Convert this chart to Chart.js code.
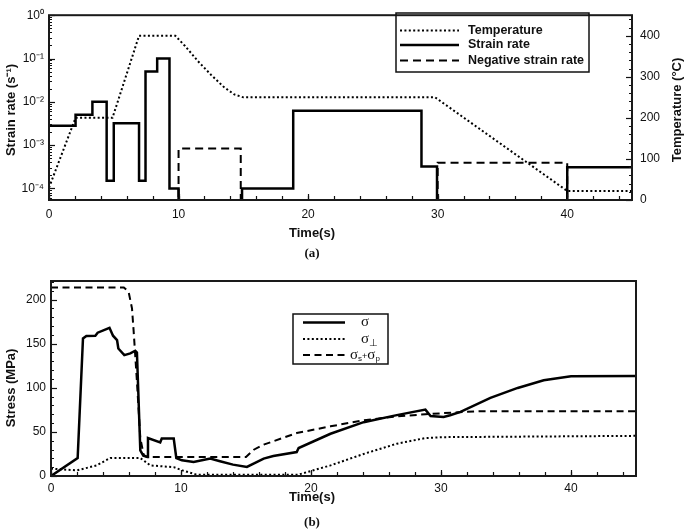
<!DOCTYPE html>
<html><head><meta charset="utf-8">
<script src="https://cdn.jsdelivr.net/npm/chart.js@4/dist/chart.umd.min.js"></script>
<style>
html,body{margin:0;padding:0;background:#fff;}
#wrap{position:relative;width:685px;height:532px;overflow:hidden;}
#c1{position:absolute;left:0;top:0;}
#c2{position:absolute;left:0;top:262px;}
</style></head><body>
<div id="wrap"><canvas id="c1" width="685" height="262"></canvas><canvas id="c2" width="685" height="270"></canvas></div>
<script>
// ---------- Panel (a) data ----------
const timeTicks = [0, 10, 20, 30, 40];
const strainTicks = [1e-4, 1e-3, 1e-2, 1e-1, 1];
const strainTickLabels = ['10⁻⁴', '10⁻³', '10⁻²', '10⁻¹', '10⁰'];
const tempTicks = [0, 100, 200, 300, 400];
const OFF = 1e-6; // below the visible strain-rate range (line runs off the axis)

// strain rate (solid), value holds from t[i] to t[i+1]
const strainT = [0, 2.05, 3.35, 4.45, 5.0, 6.95, 7.45, 8.35, 9.3, 10.0, 14.9, 18.85, 28.75, 29.95, 40.0, 45];
const strainV = [2.8e-3, 5e-3, 1e-2, 1.5e-4, 3.2e-3, 1.5e-4, 5e-2, 1e-1, 1e-4, OFF, 1e-4, 6.2e-3, 3.2e-4, OFF, 3.1e-4, 3.1e-4];
// negative strain rate (dashed)
const negT = [10.0, 10.0, 14.8, 30.0, 40.0];
const negV = [OFF, 8.3e-4, OFF, 3.9e-4, OFF];
// temperature (dotted, right axis)
const tempT = [0, 2.05, 4.9, 6.95, 9.75, 10.5, 11.5, 12.5, 13.5, 14.3, 15.0, 29.8, 40.0, 45];
const tempV = [30, 200, 200, 400, 400, 375, 338, 305, 275, 257, 250, 250, 22, 22];
const seriesA = ['Temperature', 'Strain rate', 'Negative strain rate'];

// ---------- Panel (b) data ----------
const stressTicks = [0, 50, 100, 150, 200];
const sigmaT = [0, 2.05, 2.46, 2.72, 3.41, 3.59, 4.5, 4.77, 5.08, 5.18, 5.64, 6.1, 6.48, 6.61, 6.87, 7.1, 7.42, 7.46, 8.4, 8.52, 9.44, 9.64, 10.07, 10.97, 12.25, 13.0, 14.0, 15.07, 16.36, 17.1, 18.9, 19.05, 21.5, 24.05, 26.6, 28.8, 29.2, 30.2, 30.7, 31.5, 33.8, 35.9, 37.9, 40, 45];
const sigmaV = [0, 20.4, 155.8, 158.6, 159, 162.4, 168, 159, 154, 144.5, 137, 139, 142, 140, 29, 23, 21.5, 43, 38, 42.5, 42.5, 20.4, 17.8, 15.9, 19.7, 16.7, 12.9, 10.3, 19.7, 22.7, 27.2, 31.7, 47.9, 61, 69, 75.2, 68, 66.9, 68.8, 72.6, 88.5, 99.8, 108.5, 113, 113.4];
const perpT = [0, 2, 3.5, 4.56, 6.87, 7.64, 9.44, 10.1, 11.2, 19.0, 21.5, 24.05, 26.6, 28.8, 30, 45];
const perpV = [8.3, 6.4, 12, 20.4, 20.4, 12, 10, 6.4, 1.5, 1.5, 12, 25, 36.6, 43, 44, 45.5];
const sumT = [0, 5.6, 5.97, 6.23, 6.36, 6.61, 6.87, 7.13, 7.38, 15.0, 15.6, 16.36, 18.9, 21.5, 24, 26.6, 28.8, 31.75, 33, 45];
const sumV = [213.7, 213.7, 208.7, 190, 163.6, 107, 43, 24, 21.5, 21.5, 29.8, 35.5, 48.7, 56.3, 63, 67.6, 70, 72.6, 73.4, 73.4];
const seriesB = ['σ', 'σ⊥', 'σs+σp'];

// ---------- helpers ----------
const pts = (t, v) => t.map((x, i) => ({x, y: v[i]}));
const range = (a, b, s) => { const r = []; for (let v = a; v <= b + 1e-9; v += s) r.push(+v.toFixed(6)); return r; };
const logMinor = () => { const r = []; for (let e = -5; e < 0; e++) for (let m = 2; m <= 9; m++) r.push(m * Math.pow(10, e)); return r; };
const SANS = '"Liberation Sans", Arial, Helvetica, sans-serif';
const SERIF = '"Liberation Serif", "Times New Roman", serif';
Chart.defaults.font.family = SANS;
Chart.defaults.font.size = 12;
Chart.defaults.color = '#111';

const decor = {
  id: 'decor',
  afterDraw(chart, args, o) {
    const ctx = chart.ctx, a = chart.chartArea;
    ctx.save();
    ctx.setLineDash([]);
    ctx.strokeStyle = '#111';
    (o.ticks || []).forEach(t => {
      const sc = chart.scales[t.scale];
      ctx.lineWidth = t.width;
      t.values.forEach(v => {
        const p = Math.round(sc.getPixelForValue(v)) + 0.5;
        if (p < a.top - 1 || p > a.bottom + 1 && t.side !== 'bottom') return;
        ctx.beginPath();
        if (t.side === 'bottom') { ctx.moveTo(p, a.bottom); ctx.lineTo(p, a.bottom - t.len); }
        else if (t.side === 'left') { ctx.moveTo(a.left, p); ctx.lineTo(a.left + t.len, p); }
        else { ctx.moveTo(a.right, p); ctx.lineTo(a.right - t.len, p); }
        ctx.stroke();
      });
    });
    ctx.lineWidth = o.frameWidth; ctx.strokeStyle = '#1a1a1a';
    ctx.strokeRect(a.left, a.top, a.right - a.left, a.bottom - a.top);
    ctx.fillStyle = '#111';
    (o.texts || []).forEach(t => {
      ctx.save();
      ctx.translate(t.x, t.y);
      if (t.rot) ctx.rotate(t.rot);
      ctx.font = t.font; ctx.textAlign = 'center'; ctx.textBaseline = 'middle';
      ctx.fillText(t.text, 0, 0);
      ctx.restore();
    });
    const L = o.legend;
    if (L) {
      ctx.lineWidth = L.boxWidth; ctx.strokeStyle = '#111';
      ctx.strokeRect(L.box[0], L.box[1], L.box[2], L.box[3]);
      L.rows.forEach(r => {
        const ds = chart.data.datasets[r.ds];
        ctx.save();
        ctx.strokeStyle = ds.borderColor; ctx.lineWidth = ds.borderWidth;
        ctx.setLineDash(ds.borderDash || []);
        ctx.beginPath(); ctx.moveTo(L.sample[0], r.y); ctx.lineTo(L.sample[1], r.y); ctx.stroke();
        ctx.restore();
        ctx.textBaseline = 'middle'; ctx.textAlign = 'left';
        if (r.parts) {
          let x = r.x;
          r.parts.forEach(p => {
            ctx.font = p.font; ctx.fillText(p.s, x, r.y + (p.dy || 0));
            x += ctx.measureText(p.s).width + (p.gap || 0);
          });
        } else {
          ctx.font = L.font; ctx.fillText(ds.label, L.textX, r.y);
        }
      });
    }
    ctx.restore();
  }
};

const baseLine = {pointRadius: 0, pointHoverRadius: 0, tension: 0, fill: false, borderColor: '#000', borderJoinStyle: 'miter', borderCapStyle: 'butt'};

// ---------- Chart (a) ----------
new Chart(document.getElementById('c1'), {
  type: 'line',
  data: {datasets: [
    Object.assign({}, baseLine, {label: seriesA[0], data: pts(tempT, tempV), yAxisID: 'y2', borderWidth: 2, borderDash: [2, 2.4]}),
    Object.assign({}, baseLine, {label: seriesA[1], data: pts(strainT, strainV), yAxisID: 'y', borderWidth: 2.5, stepped: true}),
    Object.assign({}, baseLine, {label: seriesA[2], data: pts(negT, negV), yAxisID: 'y', borderWidth: 2, borderDash: [8, 5], stepped: true})
  ]},
  options: {
    responsive: false, animation: false, events: [],
    layout: {padding: {top: 5, left: 0, right: 0, bottom: 0}},
    plugins: {legend: {display: false}, tooltip: {enabled: false},
      decor: {
        frameWidth: 2,
        ticks: [
          {scale: 'x', side: 'bottom', values: range(0, 44, 2), len: 4, width: 1.2},
          {scale: 'x', side: 'bottom', values: timeTicks, len: 6, width: 1.2},
          {scale: 'y', side: 'left', values: strainTicks, len: 6, width: 1.2},
          {scale: 'y', side: 'left', values: logMinor(), len: 3, width: 1},
          {scale: 'y2', side: 'right', values: range(0, 440, 20), len: 3, width: 1},
          {scale: 'y2', side: 'right', values: tempTicks, len: 6, width: 1.2}
        ],
        texts: [
          {text: 'Strain rate (s⁻¹)', x: 11, y: 110, rot: -Math.PI / 2, font: 'bold 13px ' + SANS},
          {text: 'Temperature (°C)', x: 677, y: 110, rot: -Math.PI / 2, font: 'bold 13px ' + SANS},
          {text: 'Time(s)', x: 312, y: 233, font: 'bold 13px ' + SANS},
          {text: '(a)', x: 312, y: 254, font: 'bold 13px ' + SERIF}
        ],
        legend: {box: [396, 13, 193, 59], boxWidth: 1.5, sample: [400, 459], textX: 468,
          font: 'bold 12.5px ' + SANS,
          rows: [{ds: 0, y: 30.5}, {ds: 1, y: 45}, {ds: 2, y: 60.5}]}
      }},
    scales: {
      x: {type: 'linear', min: 0, max: 45, grid: {display: false, drawTicks: false}, border: {display: false},
        afterFit: s => { s.height = 62; },
        afterBuildTicks: s => { s.ticks = timeTicks.map(v => ({value: v})); },
        ticks: {padding: 7, maxRotation: 0}},
      y: {type: 'logarithmic', position: 'left', min: 5.4e-5, max: 1, grid: {display: false, drawTicks: false}, border: {display: false},
        afterFit: s => { s.width = 49; },
        afterBuildTicks: s => { s.ticks = strainTicks.map(v => ({value: v})); },
        ticks: {padding: 5, callback: (v, i) => strainTickLabels[i]}},
      y2: {type: 'linear', position: 'right', min: 0, max: 450, grid: {display: false, drawTicks: false}, border: {display: false},
        afterFit: s => { s.width = 53; },
        afterBuildTicks: s => { s.ticks = tempTicks.map(v => ({value: v})); },
        ticks: {padding: 8}}
    }
  },
  plugins: [decor]
});

// ---------- Chart (b) ----------
const subF = '8px ' + SANS;
new Chart(document.getElementById('c2'), {
  type: 'line',
  data: {datasets: [
    Object.assign({}, baseLine, {label: seriesB[0], data: pts(sigmaT, sigmaV), borderWidth: 2.5}),
    Object.assign({}, baseLine, {label: seriesB[1], data: pts(perpT, perpV), borderWidth: 2, borderDash: [2, 2.4]}),
    Object.assign({}, baseLine, {label: seriesB[2], data: pts(sumT, sumV), borderWidth: 2, borderDash: [7, 4.5]})
  ]},
  options: {
    responsive: false, animation: false, events: [],
    layout: {padding: {top: 19, left: 0, right: 49, bottom: 0}},
    plugins: {legend: {display: false}, tooltip: {enabled: false},
      decor: {
        frameWidth: 2,
        ticks: [
          {scale: 'x', side: 'bottom', values: range(0, 44, 2), len: 4, width: 1.2},
          {scale: 'x', side: 'bottom', values: timeTicks, len: 6, width: 1.2},
          {scale: 'y', side: 'left', values: range(0, 220, 10), len: 3, width: 1},
          {scale: 'y', side: 'left', values: stressTicks, len: 6, width: 1.2}
        ],
        texts: [
          {text: 'Stress (MPa)', x: 11, y: 126, rot: -Math.PI / 2, font: 'bold 13px ' + SANS},
          {text: 'Time(s)', x: 312, y: 235, font: 'bold 13px ' + SANS},
          {text: '(b)', x: 312, y: 261, font: 'bold 13px ' + SERIF}
        ],
        legend: {box: [293, 52, 95, 50], boxWidth: 1.5, sample: [303, 345],
          rows: [
            {ds: 0, y: 60.5, x: 361, parts: [{s: 'σ', font: '15px ' + SERIF}]},
            {ds: 1, y: 77, x: 361, parts: [{s: 'σ', font: '15px ' + SERIF}, {s: '⊥', font: '10px ' + SANS, dy: 4}]},
            {ds: 2, y: 93, x: 350, parts: [{s: 'σ', font: '15px ' + SERIF}, {s: 's', font: subF, dy: 4}, {s: '+', font: '9px ' + SANS, dy: 2}, {s: 'σ', font: '15px ' + SERIF}, {s: 'p', font: subF, dy: 4}]}
          ]}
      }},
    scales: {
      x: {type: 'linear', min: 0, max: 45, grid: {display: false, drawTicks: false}, border: {display: false},
        afterFit: s => { s.height = 56; },
        afterBuildTicks: s => { s.ticks = timeTicks.map(v => ({value: v})); },
        ticks: {padding: 5, maxRotation: 0}},
      y: {type: 'linear', position: 'left', min: 0, max: 221, grid: {display: false, drawTicks: false}, border: {display: false},
        afterFit: s => { s.width = 51; },
        afterBuildTicks: s => { s.ticks = stressTicks.map(v => ({value: v})); },
        ticks: {padding: 5}}
    }
  },
  plugins: [decor]
});
</script>
</body></html>
